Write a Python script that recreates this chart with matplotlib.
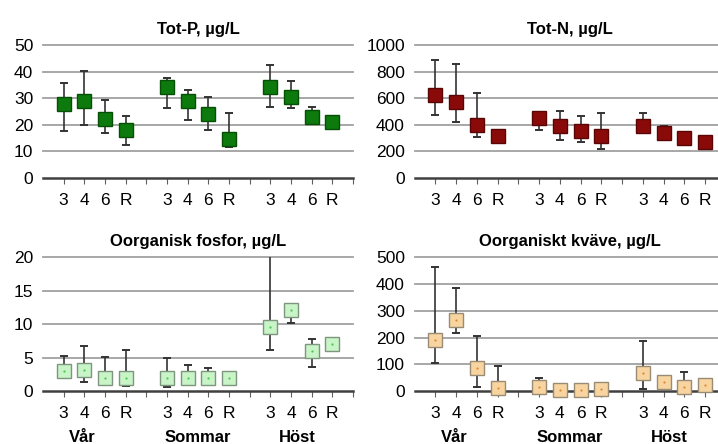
import matplotlib
matplotlib.use("Agg")
import matplotlib.pyplot as plt
import numpy as np
from matplotlib.transforms import blended_transform_factory

plt.rcParams['font.family'] = ['Liberation Sans', 'DejaVu Sans']

# ---- data ----
stations = ["3", "4", "6", "R"]
seasons = ["Vår", "Sommar", "Höst"]

totp_val  = [28.0, 29.0, 22.1, 18.0, 34.1, 28.9, 24.0, 14.8, 34.1, 30.5, 23.0, 21.0]
totp_low  = [17.6, 19.9, 17.0, 12.3, 26.3, 21.7, 18.0, 11.7, 26.8, 26.3, 21.5, 21.0]
totp_high = [35.8, 40.3, 29.2, 23.4, 37.7, 33.1, 30.3, 24.6, 42.5, 36.3, 26.8, 21.0]

totn_val  = [623, 573, 397, 314, 448, 392, 355, 317, 390, 337, 302, 274]
totn_low  = [473, 418, 309, 314, 360, 284, 274, 219, 335, 320, 302, 274]
totn_high = [887, 857, 639, 314, 498, 505, 468, 485, 488, 390, 302, 274]

op_val  = [3.0, 3.2, 2.0, 2.0, 2.0, 2.0, 2.0, 2.0, 9.5, 12.1, 6.0, 7.0]
op_low  = [2.0, 1.4, 1.5, 0.8, 0.6, 1.5, 1.5, 2.0, 6.1, 10.2, 3.6, 7.0]
op_high = [5.2, 6.7, 5.1, 6.2, 4.9, 3.9, 3.4, 2.0, 20.5, 12.1, 7.8, 7.0]

on_val  = [190, 267, 85, 11, 15, 5, 5, 8, 66, 34, 16, 22]
on_low  = [104, 216, 14, 5, 5, 5, 5, 8, 7, 30, 10, 22]
on_high = [463, 385, 206, 94, 50, 5, 5, 8, 188, 54, 71, 22]

panels = [
    dict(title="Tot-P, µg/L", val=totp_val, low=totp_low, high=totp_high,
         ylim=50, ystep=10, face="#0D7A0D", edge="#064F06", dot=None),
    dict(title="Tot-N, µg/L", val=totn_val, low=totn_low, high=totn_high,
         ylim=1000, ystep=200, face="#8A0A0A", edge="#5A0505", dot=None),
    dict(title="Oorganisk fosfor, µg/L", val=op_val, low=op_low, high=op_high,
         ylim=20, ystep=5, face="#C8F4C8", edge="#7E967E", dot="#4CC84C"),
    dict(title="Oorganiskt kväve, µg/L", val=on_val, low=on_low, high=on_high,
         ylim=500, ystep=100, face="#F8D5A0", edge="#9A8C74", dot="#E08A30"),
]

# x positions: 4 stations per season with a blank slot between seasons
xpos = []
for s in range(len(seasons)):
    for i in range(len(stations)):
        xpos.append(s * (len(stations) + 1) + i)
xpos = np.array(xpos)

W, H = 718, 444
fig = plt.figure(figsize=(W / 100, H / 100), dpi=100)

rects = [
    (43, 45, 310, 133),
    (414.7, 45, 311, 133),
    (43, 257.3, 310, 133.7),
    (414.7, 257.3, 311, 133.7),
]

for k, (p, r) in enumerate(zip(panels, rects)):
    x0, y0, w, h = r
    ax = fig.add_axes([x0 / W, 1 - (y0 + h) / H, w / W, h / H])
    val = np.array(p["val"], float)
    lo = np.array(p["low"], float)
    hi = np.array(p["high"], float)
    ax.errorbar(xpos, val, yerr=[val - lo, hi - val], fmt="none",
                ecolor="#333333", elinewidth=1.2, capsize=2.6, capthick=1.4,
                zorder=3)
    ax.plot(xpos, val, "s", ms=9.5, mfc=p["face"], mec=p["edge"], mew=1.0,
            zorder=4, clip_on=False)
    if p["dot"]:
        ax.plot(xpos, val, "o", ms=1.6, color=p["dot"], mew=0, zorder=5)

    ax.set_xlim(-1, 14)
    ax.set_ylim(0, p["ylim"])
    yt = np.arange(0, p["ylim"] + p["ystep"] / 2, p["ystep"])
    ax.set_yticks(yt)
    ax.set_yticklabels([f"{int(v)}" for v in yt], fontsize=12.5)
    ax.tick_params(axis="y", length=0, pad=7)
    for v in yt[1:]:
        ax.axhline(v, color="#A0A0A0", lw=1.3, zorder=1, clip_on=False)
    for sp in ["left", "right", "top"]:
        ax.spines[sp].set_visible(False)
    ax.spines["bottom"].set_color("#404040")
    ax.spines["bottom"].set_linewidth(1.8)
    ax.spines["bottom"].set_zorder(2)

    ticks = np.arange(0, 15)
    labels = []
    for t in ticks:
        if t in xpos:
            labels.append(stations[list(xpos).index(t) % len(stations)])
        else:
            labels.append("")
    ax.set_xticks(ticks)
    ax.set_xticklabels(labels, fontsize=12.5)
    ax.tick_params(axis="x", length=4, width=0.8, color="#606060",
                   direction="out", pad=7)

    ax.set_title(p["title"], fontsize=12, fontweight="bold", pad=8)

    if k >= 2:
        tr = blended_transform_factory(ax.transData, ax.transAxes)
        gx = [0.9, 6.5, 11.3]
        for s, gxx in zip(seasons, gx):
            ax.text(gxx, -0.35, s, transform=tr, ha="center", va="center",
                    fontsize=12, fontweight="bold")

fig.savefig("out.png", dpi=100)
